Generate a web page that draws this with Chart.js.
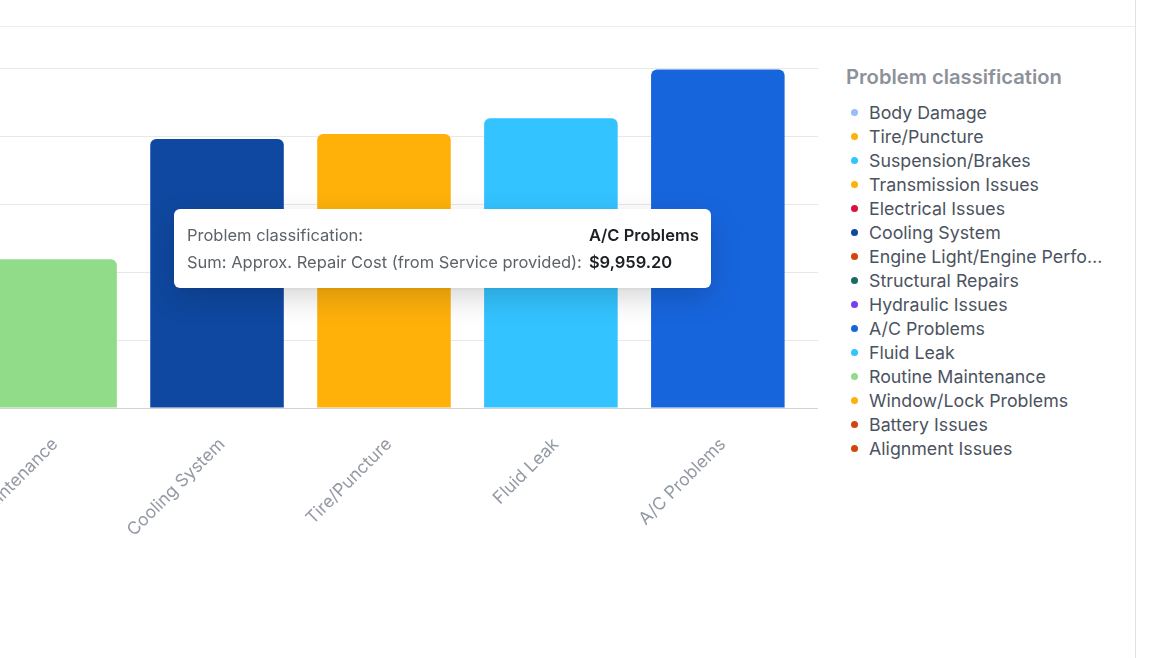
<!DOCTYPE html>
<html>
<head>
<meta charset="utf-8">
<script src="https://cdn.jsdelivr.net/npm/chart.js@4.4.1/dist/chart.umd.min.js"></script>
<style>
  html, body { margin: 0; padding: 0; background: #fff; }
  #wrap { position: relative; width: 1150px; height: 658px; overflow: hidden; font-family: Inter, "Noto Sans", sans-serif; }
  #hline { position: absolute; left: 0; top: 26px; width: 1135px; height: 1px; background: #ededed; }
  #vline { position: absolute; left: 1135px; top: 0; width: 1px; height: 658px; background: #e2e2e2; }
  #chartbox { position: absolute; left: 0; top: 0; width: 818px; height: 600px; }
  #legend { position: absolute; left: 846px; top: 64px; width: 270px; }
  #legend .title { font-size: 20.2px; line-height: 26px; font-weight: 600; color: #8d929a; margin-bottom: 10px; white-space: nowrap; }
  #legend .item { display: flex; align-items: center; height: 24px; font-size: 17.8px; color: #4c5360; }
  #legend .dot { width: 7px; height: 7px; border-radius: 50%; margin-left: 5px; margin-right: 11px; flex: none; }
  #legend .txt { white-space: nowrap; overflow: hidden; text-overflow: ellipsis; max-width: 236px; }
  #tip { position: absolute; left: 174px; top: 209px; background: #fff; border-radius: 6px;
         box-shadow: 0 10px 30px rgba(0,0,0,0.16), 0 1px 3px rgba(0,0,0,0.06);
         padding: 16px 12px 15px 13px; display: none; font-size: 16.5px; line-height: 21px; }
  #tip .grid { display: grid; grid-template-columns: auto auto; column-gap: 7px; row-gap: 6px; }
  #tip .k { color: #5d6269; white-space: nowrap; }
  #tip .v { color: #1c1f24; font-weight: 600; white-space: nowrap; text-align: left; }
</style>
</head>
<body>
<div id="wrap">
  <div id="hline"></div>
  <div id="vline"></div>
  <div id="chartbox"><canvas id="c" width="818" height="600"></canvas></div>
  <div id="legend"></div>
  <div id="tip"></div>
</div>
<script>
// ---- data ----
const categories = ["Routine Maintenance", "Cooling System", "Tire/Puncture", "Fluid Leak", "A/C Problems"];
const repairCost = [4373, 7910, 8060, 8520, 9959.20];
const barColors = ["#91dc88", "#0f48a0", "#ffb10a", "#33c3ff", "#1765dd"];

const legendTitle = "Problem classification";
const legendLabels = ["Body Damage", "Tire/Puncture", "Suspension/Brakes", "Transmission Issues", "Electrical Issues",
  "Cooling System", "Engine Light/Engine Performance", "Structural Repairs", "Hydraulic Issues", "A/C Problems",
  "Fluid Leak", "Routine Maintenance", "Window/Lock Problems", "Battery Issues", "Alignment Issues"];
const legendColors = ["#98bdf9", "#ffb10a", "#33c3ff", "#ffb10a", "#dc0f3c",
  "#0f48a0", "#d3450a", "#186b61", "#7a3df0", "#1765dd",
  "#33c3ff", "#91dc88", "#ffb10a", "#d3450a", "#d3450a"];
const yTicks = [0, 2000, 4000, 6000, 8000, 10000];
const seriesName = "Sum: Approx. Repair Cost (from Service provided)";
const hoveredIndex = 4;

// ---- legend ----
const lg = document.getElementById('legend');
const t = document.createElement('div'); t.className = 'title'; t.textContent = legendTitle; lg.appendChild(t);
legendLabels.forEach((l, i) => {
  const it = document.createElement('div'); it.className = 'item';
  const d = document.createElement('span'); d.className = 'dot'; d.style.background = legendColors[i];
  const s = document.createElement('span'); s.className = 'txt'; s.textContent = l;
  it.appendChild(d); it.appendChild(s); lg.appendChild(it);
});

// ---- tooltip (external, html) ----
const fmt = v => '$' + v.toLocaleString('en-US', {minimumFractionDigits: 2, maximumFractionDigits: 2});
function externalTip(ctx) {
  const tip = document.getElementById('tip');
  const tt = ctx.tooltip;
  if (!tt || tt.opacity === 0 || !tt.dataPoints || !tt.dataPoints.length) { tip.style.display = 'none'; return; }
  const dp = tt.dataPoints[0];
  tip.innerHTML = '<div class="grid">' +
    '<div class="k">' + legendTitle + ':</div><div class="v">' + categories[dp.dataIndex] + '</div>' +
    '<div class="k">' + seriesName + ':</div><div class="v">' + fmt(dp.parsed.y) + '</div></div>';
  tip.style.display = 'block';
}

const chart = new Chart(document.getElementById('c'), {
  type: 'bar',
  data: {
    datasets: [{
      label: seriesName,
      data: categories.map((c, i) => ({x: i, y: repairCost[i]})),
      backgroundColor: barColors,
      hoverBackgroundColor: barColors,
      borderRadius: 6,
      borderSkipped: 'start',
      barPercentage: 1.0,
      categoryPercentage: 0.8
    }]
  },
  options: {
    responsive: false,
    animation: false,
    events: [],
    layout: { padding: { top: 68, left: 0, right: 0, bottom: 0 } },
    plugins: {
      legend: { display: false },
      tooltip: { enabled: false, external: externalTip }
    },
    scales: {
      x: {
        type: 'linear',
        offset: false,
        min: -0.3, max: 4.6,
        grid: { display: false, drawTicks: false, offset: false },
        border: { display: true, color: '#d2d2d2', width: 1 },
        ticks: {
          stepSize: 1, includeBounds: false, autoSkip: false,
          minRotation: 45, maxRotation: 45, padding: 26, labelOffset: 5,
          color: '#949aa4',
          font: { family: 'Inter', size: 17.5 },
          callback: v => (Number.isInteger(v) && categories[v] !== undefined) ? categories[v] : ''
        },
        afterFit: s => { s.paddingLeft = 0; s.paddingRight = 0; s.height = 192; }
      },
      y: {
        min: yTicks[0], max: yTicks[yTicks.length - 1],
        afterBuildTicks: s => { s.ticks = yTicks.map(v => ({value: v})); },
        ticks: { display: false },
        grid: { color: '#e8e8e8', drawTicks: false, lineWidth: 1 },
        border: { display: false },
        afterFit: s => { s.width = 0; s.paddingTop = 0; s.paddingBottom = 0; }
      }
    }
  }
});

chart.tooltip.setActiveElements([{datasetIndex: 0, index: hoveredIndex}], {x: 442, y: 248});
chart.update();
</script>
</body>
</html>
